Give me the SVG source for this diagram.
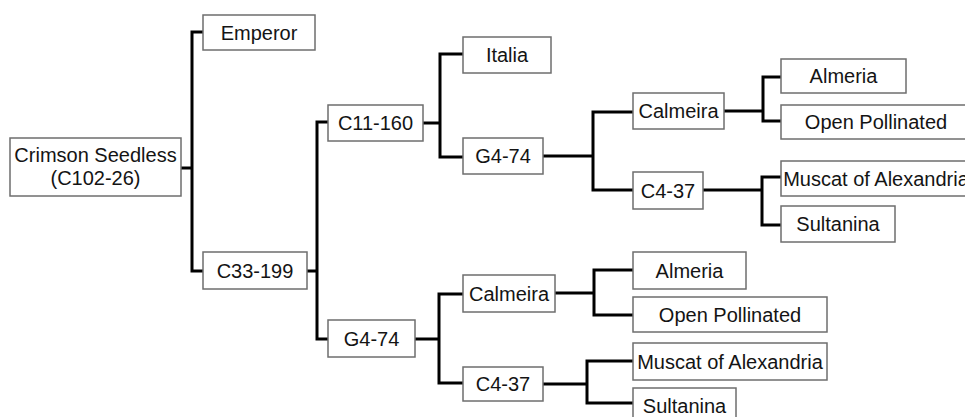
<svg xmlns="http://www.w3.org/2000/svg" width="965" height="417" viewBox="0 0 965 417">
<style>
.box{fill:#fff;stroke:#6e6e6e;stroke-width:1.5}
.t{font-family:"Liberation Sans",Arial,sans-serif;font-size:20px;fill:#141414;text-anchor:middle}
.c{fill:none;stroke:#000;stroke-width:3;stroke-linejoin:miter}
</style>
<rect width="965" height="417" fill="#fff"/>
<g id="connectors">
<path class="c" d="M181,168H192M203,32H192V271H203"/>
<path class="c" d="M307,271H317M328,122H317V339H328"/>
<path class="c" d="M423,123H440M463,54H440V157H463"/>
<path class="c" d="M543,156H593M633,112H593V190H633"/>
<path class="c" d="M724,111H763M781,77H763V121H781"/>
<path class="c" d="M703,190H762M781,177H762V225H781"/>
<path class="c" d="M415,339H439M463,294H439V383H463"/>
<path class="c" d="M555,293H594M633,270H594V315H633"/>
<path class="c" d="M543,384H587M633,361H587V403H633"/>
</g>
<g id="crimson"><rect class="box" x="10" y="138" width="171" height="58"/><text class="t" x="95.5" y="162">Crimson Seedless</text><text class="t" x="95.5" y="185">(C102-26)</text></g>
<g id="emperor"><rect class="box" x="203" y="15" width="112" height="35"/><text class="t" x="259" y="39.5">Emperor</text></g>
<g id="c33-199"><rect class="box" x="203" y="252" width="104" height="37"/><text class="t" x="255" y="277.5">C33-199</text></g>
<g id="c11-160"><rect class="box" x="328" y="105" width="95" height="36"/><text class="t" x="375.5" y="130">C11-160</text></g>
<g id="g4-74-b"><rect class="box" x="328" y="320" width="87" height="37"/><text class="t" x="371.5" y="345.5">G4-74</text></g>
<g id="italia"><rect class="box" x="463" y="37" width="88" height="36"/><text class="t" x="507" y="62">Italia</text></g>
<g id="g4-74-a"><rect class="box" x="463" y="138" width="80" height="36"/><text class="t" x="503" y="163">G4-74</text></g>
<g id="calmeira-a"><rect class="box" x="633" y="93" width="91" height="36"/><text class="t" x="678.5" y="118">Calmeira</text></g>
<g id="c4-37-a"><rect class="box" x="633" y="172" width="70" height="37"/><text class="t" x="668" y="197.5">C4-37</text></g>
<g id="almeria-a"><rect class="box" x="781" y="59" width="125" height="34"/><text class="t" x="843.5" y="83">Almeria</text></g>
<g id="open-pollinated-a"><rect class="box" x="781" y="105" width="194" height="34"/><text class="t" x="876" y="129">Open Pollinated</text></g>
<g id="muscat-a"><rect class="box" x="781" y="161" width="194" height="35"/><text class="t" x="876" y="185.5">Muscat of Alexandria</text></g>
<g id="sultanina-a"><rect class="box" x="781" y="206" width="114" height="36"/><text class="t" x="838" y="231">Sultanina</text></g>
<g id="calmeira-b"><rect class="box" x="463" y="275" width="92" height="37"/><text class="t" x="509" y="300.5">Calmeira</text></g>
<g id="c4-37-b"><rect class="box" x="463" y="367" width="80" height="34"/><text class="t" x="503" y="391">C4-37</text></g>
<g id="almeria-b"><rect class="box" x="633" y="252" width="113" height="37"/><text class="t" x="689.5" y="277.5">Almeria</text></g>
<g id="open-pollinated-b"><rect class="box" x="633" y="297" width="194" height="35"/><text class="t" x="730" y="321.5">Open Pollinated</text></g>
<g id="muscat-b"><rect class="box" x="633" y="343" width="194" height="37"/><text class="t" x="730" y="368.5">Muscat of Alexandria</text></g>
<g id="sultanina-b"><rect class="box" x="633" y="388" width="103" height="36"/><text class="t" x="684.5" y="413">Sultanina</text></g>
</svg>
